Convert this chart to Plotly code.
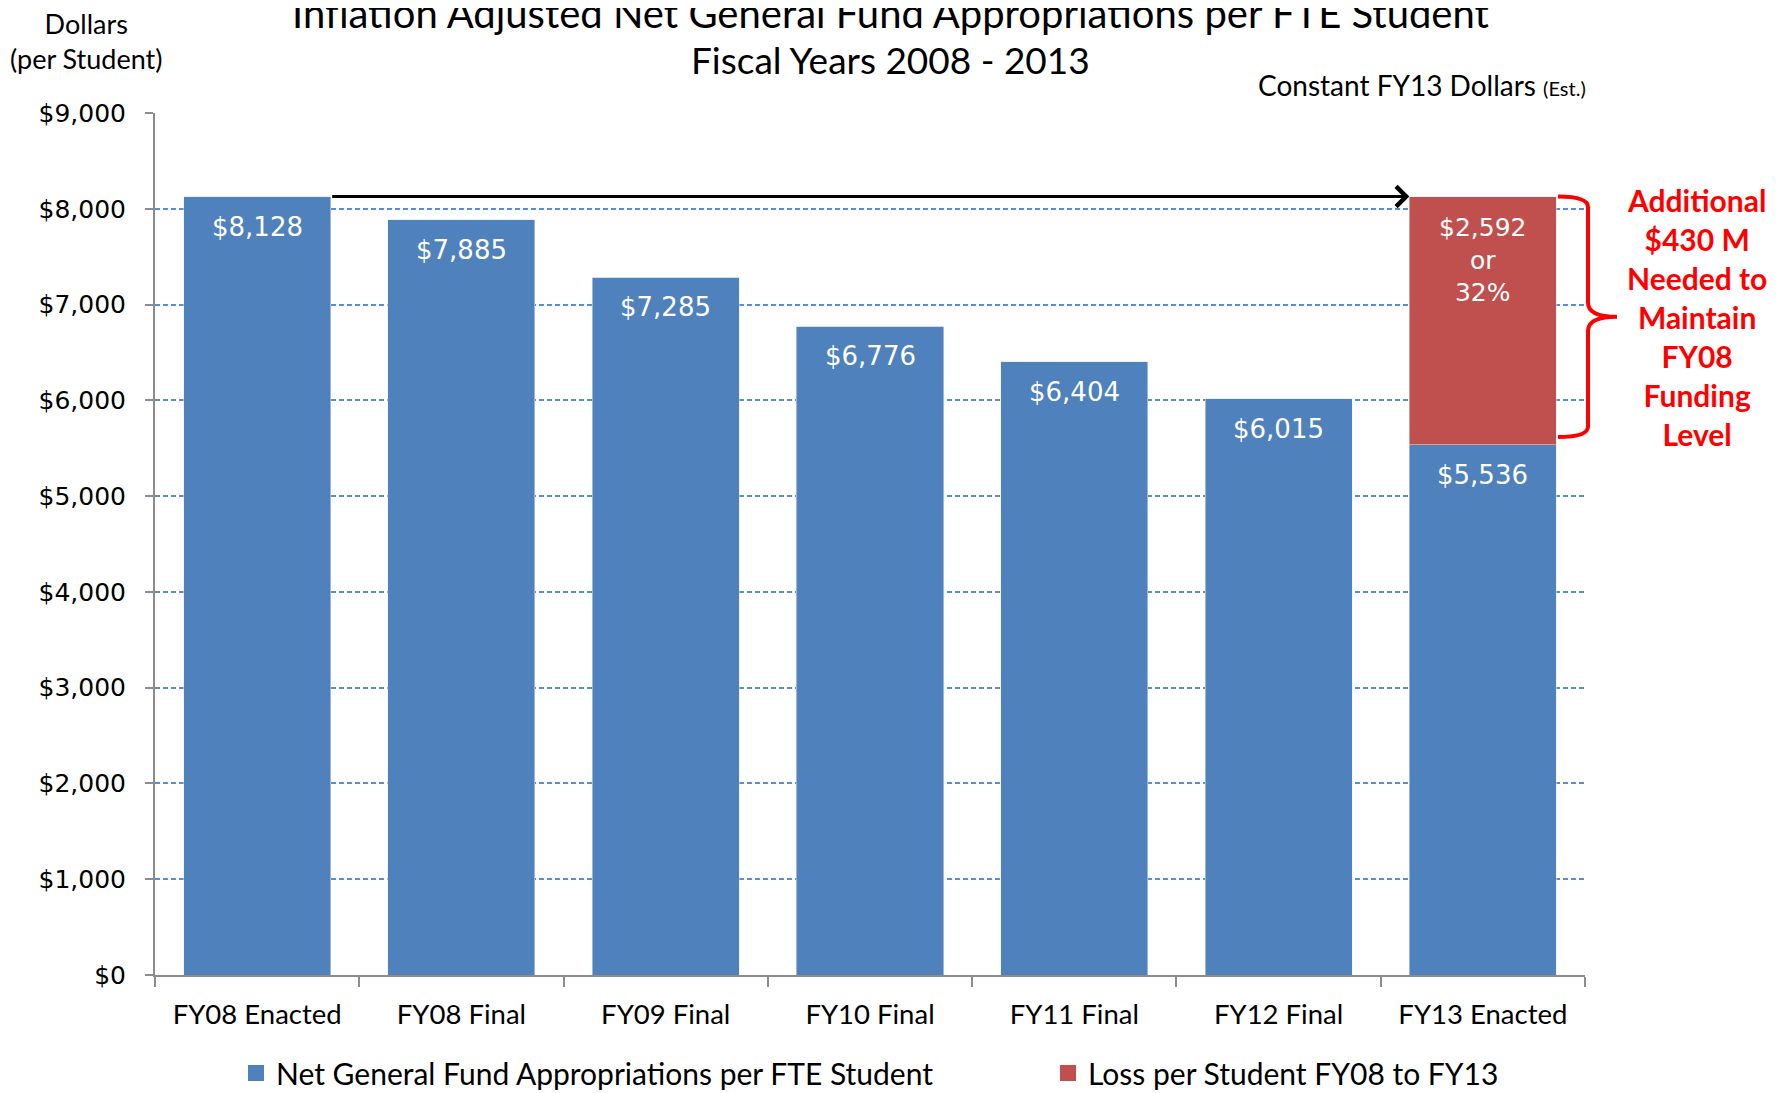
import plotly.graph_objects as go

categories = ["FY08 Enacted", "FY08 Final", "FY09 Final", "FY10 Final",
              "FY11 Final", "FY12 Final", "FY13 Enacted"]
appropriations = [8128, 7885, 7285, 6776, 6404, 6015, 5536]
loss = [0, 0, 0, 0, 0, 0, 2592]
loss_pct = 32
y_ticks = [0, 1000, 2000, 3000, 4000, 5000, 6000, 7000, 8000, 9000]
y_tick_labels = ["$" + format(v, ",") for v in y_ticks]
series_names = ["Net General Fund Appropriations per FTE Student",
                "Loss per Student FY08 to FY13"]

BLUE = "#4F81BD"
RED = "#C0504D"
NARROW = "Lato, 'Open Sans', sans-serif"
ROUND = "'DejaVu Sans', 'Open Sans', sans-serif"

# page offset (body margin) and plot area, in screen pixels
OFF = 8
W, H = 1781, 1093
SX0, SX1, SY0, SY1 = 155, 1585, 113, 975   # plot area on screen
L, T = SX0 - OFF, SY0 - OFF
R, B = W - (SX1 - OFF), H - (SY1 - OFF)
PW, PH = SX1 - SX0, SY1 - SY0


def px(xs):
    return (xs - SX0) / PW


def py(ys):
    return (SY1 - ys) / PH


fig = go.Figure()
fig.add_trace(go.Bar(x=categories, y=appropriations, marker_color=BLUE,
                     name=series_names[0], showlegend=False))
fig.add_trace(go.Bar(x=categories, y=loss, marker_color=RED,
                     name=series_names[1], showlegend=False))
# legend entries with larger square swatches
for nm, col, lg in zip(series_names, [BLUE, RED], ["legend", "legend2"]):
    fig.add_trace(go.Scatter(x=[None], y=[None], mode="markers", name=nm,
                             marker=dict(symbol="square", size=16, color=col),
                             legend=lg, showlegend=True, hoverinfo="skip"))

# value labels inside bar tops
for c, v in zip(categories, appropriations):
    fig.add_annotation(x=c, y=v, yshift=-30, text="$" + format(v, ","),
                       showarrow=False, yanchor="middle", xanchor="center",
                       font=dict(family=ROUND, size=26, color="white"))
for c, b, l in zip(categories, appropriations, loss):
    if l > 0:
        fig.add_annotation(x=c, y=b + l, yshift=-14,
                           text="$" + format(l, ",") + "<br>or<br>" + str(loss_pct) + "%",
                           showarrow=False, yanchor="top", xanchor="center",
                           font=dict(family=ROUND, size=25, color="white"))

# arrow from FY08 Enacted level to FY13 Enacted
half = (1 - 0.28) / 2
top_level = appropriations[0]
fig.add_annotation(x=len(categories) - 1 - half, y=top_level,
                   ax=half, ay=top_level, xref="x", yref="y", axref="x", ayref="y",
                   showarrow=True, arrowhead=4, arrowsize=1.3, arrowwidth=3,
                   arrowcolor="black", standoff=0, text="")

# curly brace
ytop = appropriations[-1] + loss[-1]
ybot = appropriations[-1] + 80
ymid = (ytop + ybot) / 2
xl, xm, xt = px(1558), px(1588), px(1617)
d1, d2 = 110, 150
path = (f"M{xl},{ytop} Q{xm},{ytop} {xm},{ytop - d1} L{xm},{ymid + d2} "
        f"Q{xm},{ymid} {xt},{ymid} Q{xm},{ymid} {xm},{ymid - d2} "
        f"L{xm},{ybot + d1} Q{xm},{ybot} {xl},{ybot}")
fig.add_shape(type="path", path=path, xref="paper", yref="y",
              line=dict(color="#FF0000", width=4))

fig.add_annotation(xref="paper", yref="y", x=px(1697), y=ymid, xanchor="center",
                   yanchor="middle",
                   text="Additional<br>$430 M<br>Needed to<br>Maintain<br>FY08<br>Funding<br>Level",
                   showarrow=False, align="center",
                   font=dict(family="Lato, 'Open Sans', sans-serif", size=30, color="#FF0000",
                             weight="bold"))

# titles
fig.add_annotation(xref="paper", yref="paper", x=px(890), y=py(13), yanchor="middle",
                   xanchor="center",
                   text="Inflation Adjusted Net General Fund Appropriations per FTE Student",
                   showarrow=False, align="center",
                   font=dict(family=NARROW, size=40, color="black"))
fig.add_annotation(xref="paper", yref="paper", x=px(891), y=py(59), yanchor="middle",
                   xanchor="center",
                   text="Fiscal Years 2008 - 2013",
                   showarrow=False, align="center",
                   font=dict(family=NARROW, size=37, color="black"))
fig.add_annotation(xref="paper", yref="paper", x=px(86), y=py(41), yanchor="middle",
                   xanchor="center",
                   text="Dollars<br>(per Student)", showarrow=False, align="center",
                   font=dict(family=NARROW, size=27, color="black"))
fig.add_annotation(xref="paper", yref="paper", x=px(1588), y=py(85), xanchor="right",
                   yanchor="middle",
                   text="Constant FY13 Dollars <span style='font-size:20px'>(Est.)</span>",
                   showarrow=False,
                   font=dict(family=NARROW, size=28, color="black"))

legend_font = dict(family=NARROW, size=30, color="black")
fig.update_layout(
    barmode="stack", bargap=0.28,
    width=W, height=H,
    margin=dict(l=L, r=R, t=T, b=B, autoexpand=False),
    plot_bgcolor="white", paper_bgcolor="white",
    showlegend=True,
    legend=dict(orientation="h", xref="container", yref="container",
                x=(236 - OFF) / W, xanchor="left", y=1 - (1073 - OFF) / H, yanchor="middle",
                font=legend_font, bgcolor="rgba(0,0,0,0)"),
    legend2=dict(orientation="h", xref="container", yref="container",
                 x=(1048 - OFF) / W, xanchor="left", y=1 - (1073 - OFF) / H, yanchor="middle",
                 font=legend_font, bgcolor="rgba(0,0,0,0)"),
)
fig.update_yaxes(range=[0, 9000], tickvals=y_ticks, ticktext=y_tick_labels,
                 showgrid=True, gridcolor="#5A8ED6", griddash="5px,3px", gridwidth=2,
                 showline=True, linecolor="#8C8C8C", linewidth=2,
                 ticks="outside", ticklen=8, tickcolor="#8C8C8C", tickwidth=2,
                 ticklabelstandoff=14, automargin=False,
                 tickfont=dict(family=ROUND, size=25, color="black"),
                 zeroline=False)
fig.update_xaxes(showline=True, linecolor="#8C8C8C", linewidth=2,
                 ticks="outside", tickson="boundaries", ticklen=10,
                 tickcolor="#8C8C8C", tickwidth=2,
                 ticklabelstandoff=14, automargin=False,
                 tickfont=dict(family=NARROW, size=27.5, color="black"))

fig.write_html("out.html")
